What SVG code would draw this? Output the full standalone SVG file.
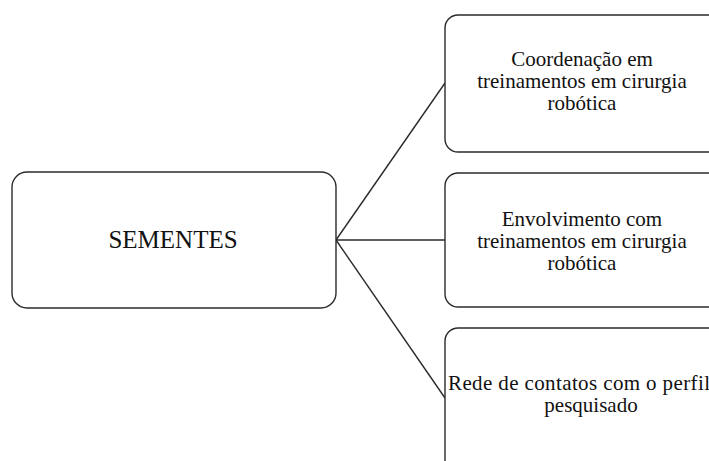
<svg xmlns="http://www.w3.org/2000/svg" width="709" height="461" viewBox="0 0 709 461">
<style>
.box{fill:#ffffff;stroke:#2b2b2b;stroke-width:1.4}
.conn{stroke:#2b2b2b;stroke-width:1.4;fill:none}
text{font-family:"Liberation Serif","Times New Roman",serif;fill:#111;text-anchor:middle}
.t21{font-size:21px}
.t25{font-size:25px}
</style>
<rect width="709" height="461" fill="#ffffff"/>
<g id="connectors">
<line class="conn" x1="336" y1="240" x2="445" y2="83"/>
<line class="conn" x1="336" y1="240" x2="445" y2="240"/>
<line class="conn" x1="336" y1="240" x2="445" y2="398"/>
</g>
<g id="node-sementes">
<rect class="box" x="12" y="172" width="324" height="136" rx="15" ry="15"/>
<text class="t25" x="173" y="248">SEMENTES</text>
</g>
<g id="node-coordenacao">
<rect class="box" x="445" y="15" width="290" height="137" rx="13" ry="13"/>
<text class="t21" x="582" y="66">Coordenação em</text>
<text class="t21" x="582" y="88">treinamentos em cirurgia</text>
<text class="t21" x="582" y="110">robótica</text>
</g>
<g id="node-envolvimento">
<rect class="box" x="445" y="173" width="290" height="134" rx="13" ry="13"/>
<text class="t21" x="582" y="226">Envolvimento com</text>
<text class="t21" x="582" y="248">treinamentos em cirurgia</text>
<text class="t21" x="582" y="270">robótica</text>
</g>
<g id="node-rede">
<rect class="box" x="445" y="328" width="290" height="150" rx="13" ry="13"/>
<text class="t21" x="448" y="390" style="text-anchor:start" textLength="262" lengthAdjust="spacing">Rede de contatos com o perfil</text>
<text class="t21" x="591" y="412">pesquisado</text>
</g>
</svg>
